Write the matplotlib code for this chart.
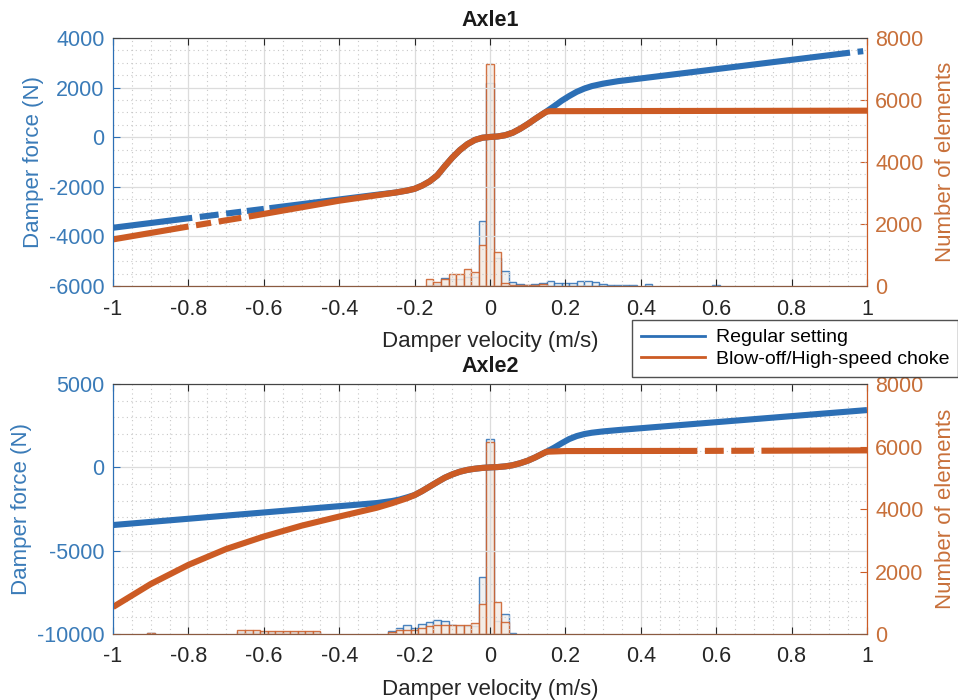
import matplotlib
matplotlib.use("Agg")
import matplotlib.pyplot as plt
from matplotlib.lines import Line2D
from matplotlib.ticker import MultipleLocator
import numpy as np

plt.rcParams['font.family'] = ['Liberation Sans', 'DejaVu Sans']
plt.rcParams['axes.unicode_minus'] = False

nan = np.nan

# damper characteristics, Axle1 (velocity m/s, force N); nan marks a break in the trace
v1_reg = [-1.0, -0.79, nan, -0.77, -0.72, nan, -0.70, -0.66, nan, -0.645, -0.60, nan, -0.585, -0.55,
          -0.40, -0.30, -0.25, -0.22, -0.20, -0.18, -0.16, -0.14, -0.12, -0.10, -0.08, -0.06,
          -0.04, -0.02, 0.0, 0.02, 0.04, 0.06, 0.08, 0.10, 0.12, 0.14, 0.15, 0.17, 0.19, 0.21,
          0.23, 0.25, 0.27, 0.30, 0.34, 0.40, 0.955, nan, 0.975, 0.99]
f1_reg = [-3650, -3250, nan, -3213, -3118, nan, -3080, -3004, nan, -2975, -2890, nan, -2862, -2795,
          -2510, -2320, -2230, -2150, -2080, -1950, -1780, -1540, -1170, -820, -520, -280,
          -110, -20, 10, 30, 80, 180, 340, 530, 740, 940, 1040, 1250, 1470, 1660,
          1830, 1960, 2060, 2160, 2260, 2370, 3410, nan, 3445, 3470]
v1_bo = [-1.0, -0.80, nan, -0.78, -0.74, nan, -0.72, -0.66, nan, -0.64, -0.40, -0.30, -0.25, -0.22,
         -0.20, -0.18, -0.16, -0.14, -0.12, -0.10, -0.08, -0.06, -0.04, -0.02, 0.0, 0.02, 0.04,
         0.06, 0.08, 0.10, 0.12, 0.14, 0.15, 0.16, 1.0]
f1_bo = [-4120, -3600, nan, -3550, -3450, nan, -3400, -3250, nan, -3200, -2560, -2340, -2230, -2150,
         -2080, -1950, -1780, -1540, -1170, -820, -520, -280, -110, -20, 10, 30, 80,
         180, 340, 530, 740, 940, 1030, 1050, 1070]

# damper characteristics, Axle2
v2_reg = [-1.0, -0.30, -0.26, -0.24, -0.22, -0.20, -0.18, -0.16, -0.14, -0.12, -0.10, -0.08, -0.06,
          -0.04, -0.02, 0.0, 0.02, 0.04, 0.06, 0.08, 0.10, 0.12, 0.14, 0.15, 0.17, 0.19, 0.21,
          0.23, 0.25, 0.27, 0.30, 0.35, 1.0]
f2_reg = [-3460, -2140, -2020, -1930, -1800, -1660, -1420, -1150, -880, -620, -420, -260, -150,
          -80, -30, 0, 20, 60, 130, 250, 400, 600, 830, 940, 1180, 1450, 1700,
          1880, 2000, 2080, 2160, 2260, 3440]
v2_bo = [-1.0, -0.9, -0.8, -0.7, -0.6, -0.5, -0.4, -0.30, -0.26, -0.22, -0.20, -0.18, -0.16, -0.14,
         -0.12, -0.10, -0.08, -0.06, -0.04, -0.02, 0.0, 0.02, 0.04, 0.06, 0.08, 0.10, 0.12, 0.14,
         0.15, 0.20, 0.55, nan, 0.57, 0.62, nan, 0.64, 0.70, nan, 0.72, 1.0]
f2_bo = [-8380, -7000, -5850, -4900, -4150, -3500, -2950, -2420, -2150, -1850, -1660, -1420, -1150, -880,
         -620, -420, -260, -150, -80, -30, 0, 20, 60, 130, 250, 400, 600, 830,
         940, 980, 990, nan, 990, 995, nan, 995, 1000, nan, 1000, 1020]

# velocity histograms (bin centre, count), bin width 0.02 m/s
h1_reg_v = [-0.16, -0.14, -0.12, -0.10, -0.08, -0.06, -0.04, -0.02, 0.00, 0.02, 0.04, 0.06, 0.08,
            0.10, 0.12, 0.14, 0.16, 0.18, 0.20, 0.22, 0.24, 0.26, 0.28, 0.30, 0.32, 0.34, 0.36,
            0.38, 0.42, 0.60]
h1_reg_n = [30, 60, 270, 240, 240, 280, 280, 2100, 6550, 900, 490, 140, 50,
            40, 60, 100, 150, 90, 90, 110, 150, 150, 120, 60, 40, 40, 30,
            30, 75, 40]
h1_bo_v = [-0.16, -0.14, -0.12, -0.10, -0.08, -0.06, -0.04, -0.02, 0.00, 0.02, 0.04, 0.06, 0.08,
           0.10, 0.12, 0.14]
h1_bo_n = [215, 120, 215, 385, 385, 540, 460, 1320, 7160, 1110, 90, 30, 20,
           20, 40, 60]

h2_reg_v = [-0.90, -0.66, -0.64, -0.62, -0.60, -0.58, -0.56, -0.54, -0.52, -0.50, -0.48, -0.46,
            -0.26, -0.24, -0.22, -0.20, -0.18, -0.16, -0.14, -0.12, -0.10, -0.08, -0.06, -0.04,
            -0.02, 0.00, 0.02, 0.04, 0.06]
h2_reg_n = [20, 60, 60, 60, 60, 60, 60, 60, 60, 60, 60, 60,
            100, 180, 280, 200, 320, 370, 450, 430, 280, 250, 250, 250,
            1810, 6230, 430, 630, 20]
h2_bo_v = [-0.90, -0.66, -0.64, -0.62, -0.60, -0.58, -0.56, -0.54, -0.52, -0.50, -0.48, -0.46,
           -0.26, -0.24, -0.22, -0.20, -0.18, -0.16, -0.14, -0.12, -0.10, -0.08, -0.06, -0.04,
           -0.02, 0.00, 0.02, 0.04]
h2_bo_n = [30, 140, 140, 140, 100, 100, 100, 100, 100, 100, 100, 100,
           60, 130, 130, 130, 180, 260, 280, 280, 280, 280, 280, 340,
           960, 6150, 1040, 380]

x_ticks = [-1, -0.8, -0.6, -0.4, -0.2, 0, 0.2, 0.4, 0.6, 0.8, 1]
x_labels = ['-1', '-0.8', '-0.6', '-0.4', '-0.2', '0', '0.2', '0.4', '0.6', '0.8', '1']

BLUE = '#2c6fb5'
ORANGE = '#cc5b24'
BLUE_TXT = '#3a7bb8'
ORANGE_TXT = '#c8703a'
FS = 15.5


def draw_panel(rect, title, v_reg, f_reg, v_bo, f_bo, hr_v, hr_n, hb_v, hb_n,
               f_lim, f_ticks, f_minor):
    ax = fig.add_axes(rect)
    ax2 = ax.twinx()
    # histograms sit on the right axis, curves stay in front of them
    ax.set_zorder(ax2.get_zorder() + 1)
    ax.patch.set_visible(False)

    ax2.bar(hr_v, hr_n, width=0.02, facecolor='#efefef', edgecolor=BLUE, linewidth=1.0, alpha=0.85)
    ax2.bar(hb_v, hb_n, width=0.02, facecolor='#f5ece4', edgecolor=ORANGE, linewidth=1.0, alpha=0.85)

    ax.plot(v_reg, f_reg, color=BLUE, lw=4.4, solid_capstyle='butt', solid_joinstyle='round')
    ax.plot(v_bo, f_bo, color=ORANGE, lw=4.4, solid_capstyle='butt', solid_joinstyle='round')

    ax.set_xlim(-1, 1)
    ax.set_ylim(*f_lim)
    ax2.set_ylim(0, 8000)
    ax.set_xticks(x_ticks)
    ax.set_xticklabels(x_labels)
    ax.set_yticks(f_ticks)
    ax2.set_yticks([0, 2000, 4000, 6000, 8000])
    ax.xaxis.set_minor_locator(MultipleLocator(0.05))
    ax.yaxis.set_minor_locator(MultipleLocator(f_minor))

    ax.grid(True, which='major', color='#dcdcdc', lw=0.9)
    ax.grid(True, which='minor', color='#c8c8c8', ls=(0, (1, 3)), lw=0.8)

    ax.tick_params(axis='x', which='major', direction='in', length=5, top=True, labelsize=FS,
                   colors='#262626', pad=9)
    ax.tick_params(axis='y', which='major', direction='in', length=5, labelsize=FS,
                   colors=BLUE, labelcolor=BLUE_TXT, pad=6)
    ax.tick_params(which='minor', length=0)
    ax2.tick_params(axis='y', direction='in', length=5, labelsize=FS, colors=ORANGE,
                    labelcolor=ORANGE_TXT, pad=6)

    for a in (ax, ax2):
        a.spines['top'].set_color('#444444')
        a.spines['bottom'].set_color('#8a5a40')
        a.spines['left'].set_color(BLUE)
        a.spines['right'].set_color(ORANGE)

    ax.set_xlabel('Damper velocity (m/s)', fontsize=16, color='#262626', labelpad=8)
    ax.set_ylabel('Damper force (N)', fontsize=16, color=BLUE_TXT, labelpad=4)
    ax2.set_ylabel('Number of elements', fontsize=16, color=ORANGE_TXT, labelpad=8)
    ax.set_title(title, fontsize=FS, fontweight='bold', color='#1a1a1a', pad=9)
    return ax


fig = plt.figure(figsize=(9.58, 7.0), dpi=100)

draw_panel([0.118, 0.5914, 0.787, 0.3543], 'Axle1', v1_reg, f1_reg, v1_bo, f1_bo,
           h1_reg_v, h1_reg_n, h1_bo_v, h1_bo_n, (-6000, 4000),
           [-6000, -4000, -2000, 0, 2000, 4000], 500)
draw_panel([0.118, 0.0943, 0.787, 0.357], 'Axle2', v2_reg, f2_reg, v2_bo, f2_bo,
           h2_reg_v, h2_reg_n, h2_bo_v, h2_bo_n, (-10000, 5000),
           [-10000, -5000, 0, 5000], 1000)

handles = [Line2D([], [], color=BLUE, lw=2), Line2D([], [], color=ORANGE, lw=2)]
leg = fig.legend(handles, ['Regular setting', 'Blow-off/High-speed choke'],
                 loc='upper left', bbox_to_anchor=(0.6597, 0.5429), fontsize=14,
                 frameon=True, fancybox=False, handlelength=3.3, handletextpad=0.55,
                 borderpad=0.45, labelspacing=0.22, borderaxespad=0)
leg.get_frame().set_edgecolor('#262626')
leg.get_frame().set_linewidth(1.0)

fig.savefig('out.png', dpi=100, facecolor='white')
